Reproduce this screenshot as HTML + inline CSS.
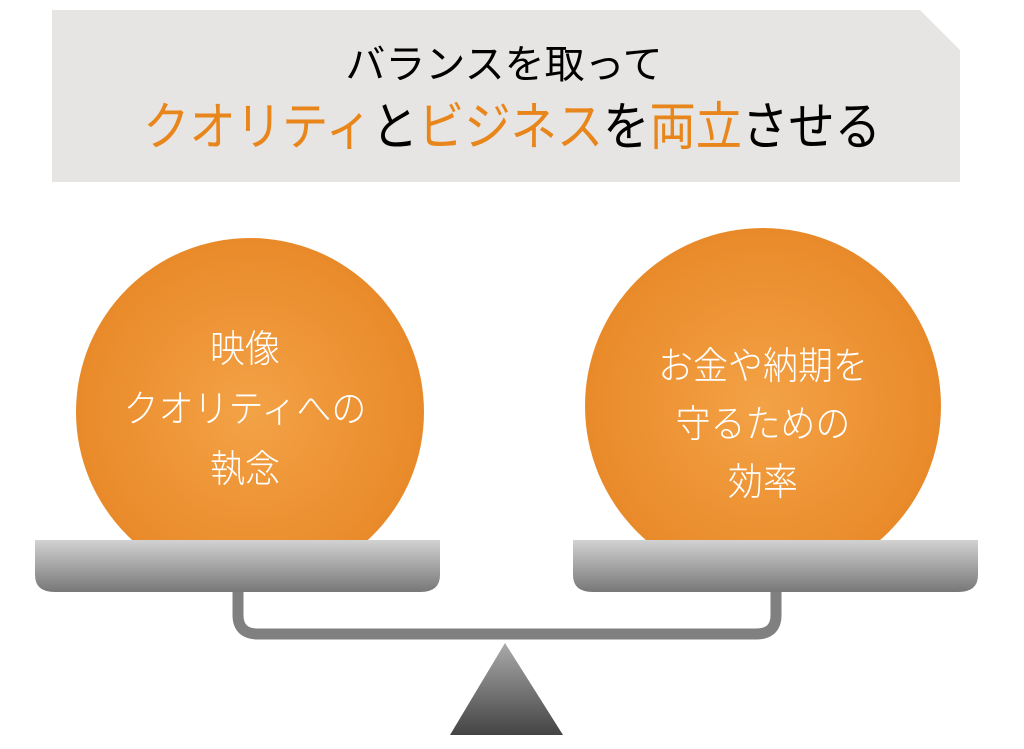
<!DOCTYPE html>
<html><head><meta charset="utf-8"><style>
body{margin:0;width:1024px;height:749px;background:#fff;overflow:hidden;position:relative;font-family:"Liberation Sans","Noto Sans CJK JP",sans-serif;}
.t{position:absolute;left:0;width:1024px;text-align:center;white-space:nowrap;}
.o{color:#e8861c}
.c{position:absolute;color:#fff;text-align:center;font-size:38px;line-height:58px;white-space:nowrap;font-weight:300;transform:scaleX(0.92)}
</style></head><body>
<svg width="1024" height="749" style="position:absolute;left:0;top:0">
<defs>
<radialGradient id="og" cx="50%" cy="50%" r="50%"><stop offset="0" stop-color="#f3a246"/><stop offset="1" stop-color="#e98a2a"/></radialGradient>
<linearGradient id="pg" x1="0" y1="0" x2="0" y2="1"><stop offset="0" stop-color="#d2d2d2"/><stop offset="1" stop-color="#777"/></linearGradient>
<linearGradient id="tg" x1="0" y1="0" x2="0" y2="1"><stop offset="0" stop-color="#aaa"/><stop offset="1" stop-color="#444"/></linearGradient>
<clipPath id="cp"><rect x="0" y="0" width="1024" height="541"/></clipPath>
</defs>
<polygon points="52,10 920,10 960,50 960,182 52,182" fill="#e6e5e3"/>
<g clip-path="url(#cp)">
<circle cx="250" cy="412" r="174" fill="url(#og)"/>
<circle cx="763" cy="406" r="178" fill="url(#og)"/>
</g>
<path d="M238,590 V615 Q238,634 258,634 H756 Q776,634 776,615 V590" fill="none" stroke="#808080" stroke-width="11"/>
<path d="M35,540 H440 V575 Q440,592 420,592 H55 Q35,592 35,575 Z" fill="url(#pg)"/>
<path d="M573,540 H978 V575 Q978,592 958,592 H593 Q573,592 573,575 Z" fill="url(#pg)"/>
<polygon points="505,643 563,735 450,735" fill="url(#tg)"/>
</svg>
<div class="t" style="top:42px;font-size:40px;line-height:46px;left:-8px">バランスを取って</div>
<div class="t" style="top:98px;font-size:52px;line-height:60px;left:0;transform:scaleX(0.89)"><span class="o">クオリティ</span>と<span class="o">ビジネス</span>を<span class="o">両立</span>させる</div>
<div class="c" style="left:95px;width:300px;top:320px;line-height:60px">映像<br>クオリティへの<br>執念</div>
<div class="c" style="left:613px;width:300px;top:338px">お金や納期を<br>守るための<br>効率</div>
</body></html>
